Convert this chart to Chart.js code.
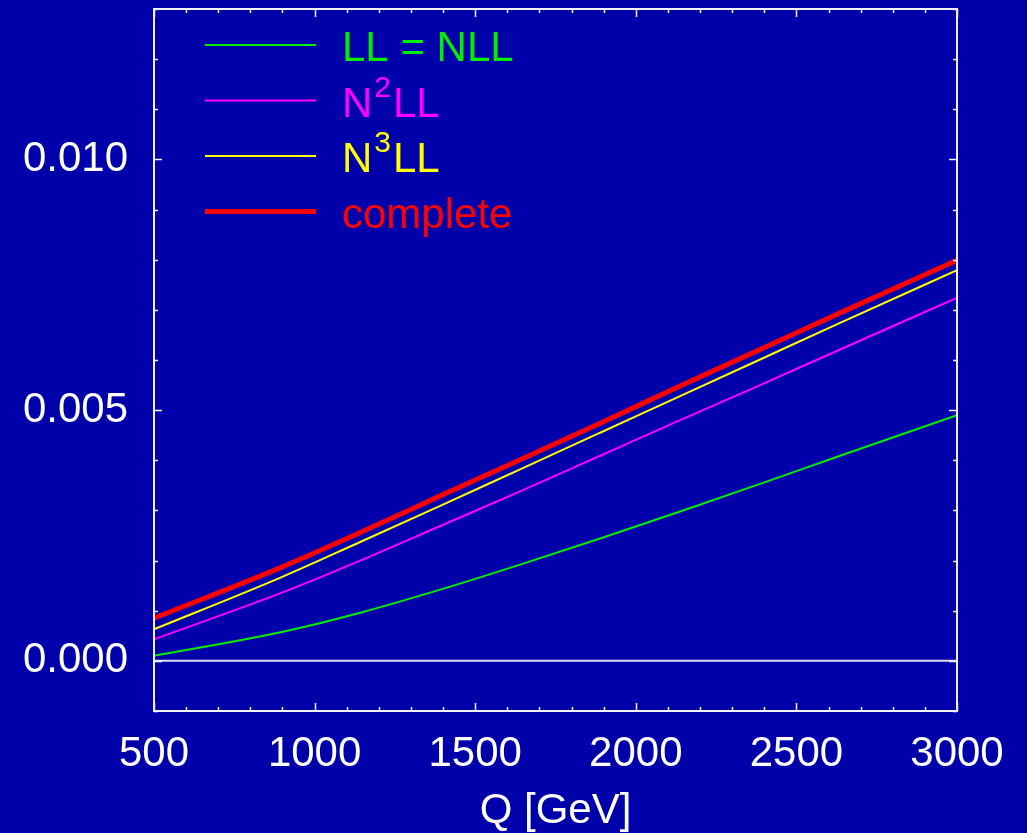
<!DOCTYPE html>
<html><head><meta charset="utf-8">
<script src="https://cdn.jsdelivr.net/npm/chart.js@4/dist/chart.umd.min.js"></script>
<style>html,body{margin:0;padding:0;background:#0000aa;overflow:hidden}#wrap{width:1027px;height:833px;position:relative}</style>
</head><body><div id="wrap"><canvas id="c"></canvas></div>
<script>
// ---- data ----
const Q        = [500, 894, 1142, 1391, 1640, 1889, 2138, 2387, 2636, 3000];
const LL       = [0.00010, 0.00057, 0.00096, 0.00142, 0.00192, 0.00244, 0.00298, 0.00353, 0.00409, 0.00490];
const N2LL     = [0.00043, 0.00135, 0.00200, 0.00269, 0.00338, 0.00409, 0.00480, 0.00550, 0.00621, 0.00724];
const N3LL     = [0.00063, 0.00166, 0.00237, 0.00309, 0.00382, 0.00455, 0.00528, 0.00601, 0.00674, 0.00779];
const COMPLETE = [0.00085, 0.00186, 0.00256, 0.00329, 0.00401, 0.00474, 0.00548, 0.00621, 0.00694, 0.00799];
const xTickValues = [500, 1000, 1500, 2000, 2500, 3000];
const yTickValues = [0.000, 0.005, 0.010];
const xRange = [500, 3000];
const yRange = [-0.001, 0.013];
const xMinorStep = 100;
const yMinorStep = 0.001;
const xTitle = 'Q [GeV]';
// legend labels: parts, sup = superscript
const legendLabels = [
  [{t:'LL = NLL'}],
  [{t:'N'},{t:'2',sup:true},{t:'LL'}],
  [{t:'N'},{t:'3',sup:true},{t:'LL'}],
  [{t:'complete'}]
];

const FONT = 'Liberation Sans, Arial, Helvetica, sans-serif';
const BG = '#0000aa';
const FRAME = '#f2f2ff';

function pts(ys){ return Q.map((q,i)=>({x:q,y:ys[i]})); }

const bgPlugin = {
  id:'bg',
  beforeDraw(chart){
    const c = chart.ctx; c.save(); c.fillStyle = BG; c.fillRect(0,0,chart.width,chart.height); c.restore();
  },
  beforeDatasetsDraw(chart){
    const c = chart.ctx, a = chart.chartArea, y = chart.scales.y;
    const y0 = y.getPixelForValue(0);
    c.save(); c.strokeStyle = '#d8d8f6'; c.lineWidth = 2;
    c.beginPath(); c.moveTo(a.left, y0); c.lineTo(a.right, y0); c.stroke(); c.restore();
  },
  afterDraw(chart){
    const c = chart.ctx, a = chart.chartArea, xs = chart.scales.x, ys = chart.scales.y;
    c.save();
    c.strokeStyle = FRAME; c.lineWidth = 2;
    c.strokeRect(a.left, a.top, a.right - a.left, a.bottom - a.top);
    c.lineWidth = 1.5;
    c.beginPath();
    for (let v = xRange[0]; v <= xRange[1] + 1e-9; v += xMinorStep) {
      const major = xTickValues.some(t => Math.abs(t - v) < 1e-6);
      const L = major ? 8 : 4;
      const px = Math.round(xs.getPixelForValue(v)) + 0.5;
      c.moveTo(px, a.bottom); c.lineTo(px, a.bottom - L);
      c.moveTo(px, a.top); c.lineTo(px, a.top + L);
    }
    for (let k = 0; k <= Math.round((yRange[1]-yRange[0])/yMinorStep); k++) {
      const v = yRange[0] + k*yMinorStep;
      const major = yTickValues.some(t => Math.abs(t - v) < 1e-9);
      const L = major ? 8 : 4;
      const py = Math.round(ys.getPixelForValue(v)) + 0.5;
      c.moveTo(a.left, py); c.lineTo(a.left + L, py);
      c.moveTo(a.right, py); c.lineTo(a.right - L, py);
    }
    c.stroke();
    // legend
    const ds = chart.data.datasets;
    [0,1,2,3].forEach((i, row) => {
      const d = ds[i];
      const ly = a.top + 36 + row * 55.5;
      c.strokeStyle = d.borderColor; c.lineWidth = d.borderWidth;
      c.beginPath(); c.moveTo(205, ly); c.lineTo(316, ly); c.stroke();
      c.fillStyle = d.borderColor; c.textBaseline = 'alphabetic'; c.textAlign = 'left';
      let x = 342; const base = ly + 16;
      legendLabels[i].forEach(p => {
        if (p.sup) {
          c.font = '30px ' + FONT;
          x += 2;
          c.fillText(p.t, x, base - 20);
          x += c.measureText(p.t).width + 2;
        } else {
          c.font = '42px ' + FONT;
          c.fillText(p.t, x, base);
          x += c.measureText(p.t).width;
        }
      });
    });
    c.restore();
  }
};

const colors = ['#00ee00', '#ff00ff', '#ffff00', '#ff0000'];
const widths = [2, 2, 2, 5];

new Chart(document.getElementById('c'), {
  type: 'line',
  data: {
    datasets: [
      {label:'LL = NLL', data: pts(LL)},
      {label:'N2LL', data: pts(N2LL)},
      {label:'N3LL', data: pts(N3LL)},
      {label:'complete', data: pts(COMPLETE)}
    ].map((d,i)=>Object.assign(d,{borderColor:colors[i], backgroundColor:colors[i], borderWidth:widths[i], pointRadius:0, fill:false, cubicInterpolationMode:'monotone'}))
  },
  options: {
    responsive: true, maintainAspectRatio: false, animation: false,
    layout: {padding: {top: 9, right: 70, left: 0, bottom: 0}},
    plugins: {legend: {display: false}, tooltip: {enabled: false}},
    scales: {
      x: {
        type: 'linear', min: xRange[0], max: xRange[1],
        grid: {display: false}, border: {display: false},
        afterBuildTicks(s){ s.ticks = xTickValues.map(v=>({value:v})); },
        afterFit(s){ s.height = 122; s.paddingLeft = 0; s.paddingRight = 0; },
        ticks: {color: '#ffffff', font: {family: FONT, size: 42}, padding: 10, maxRotation: 0, autoSkip: false,
          callback: v => String(v)},
        title: {display: true, text: xTitle, color: '#ffffff', font: {family: FONT, size: 42}, padding: {top: 0, bottom: -4}}
      },
      y: {
        type: 'linear', min: yRange[0], max: yRange[1],
        grid: {display: false}, border: {display: false},
        afterBuildTicks(s){ s.ticks = yTickValues.map(v=>({value:v})); },
        afterFit(s){ s.width = 154; s.paddingTop = 0; s.paddingBottom = 0; },
        ticks: {color: '#ffffff', font: {family: FONT, size: 42}, padding: 18, autoSkip: false,
          callback: v => v.toFixed(3)}
      }
    }
  },
  plugins: [bgPlugin]
});
</script>
</body></html>
